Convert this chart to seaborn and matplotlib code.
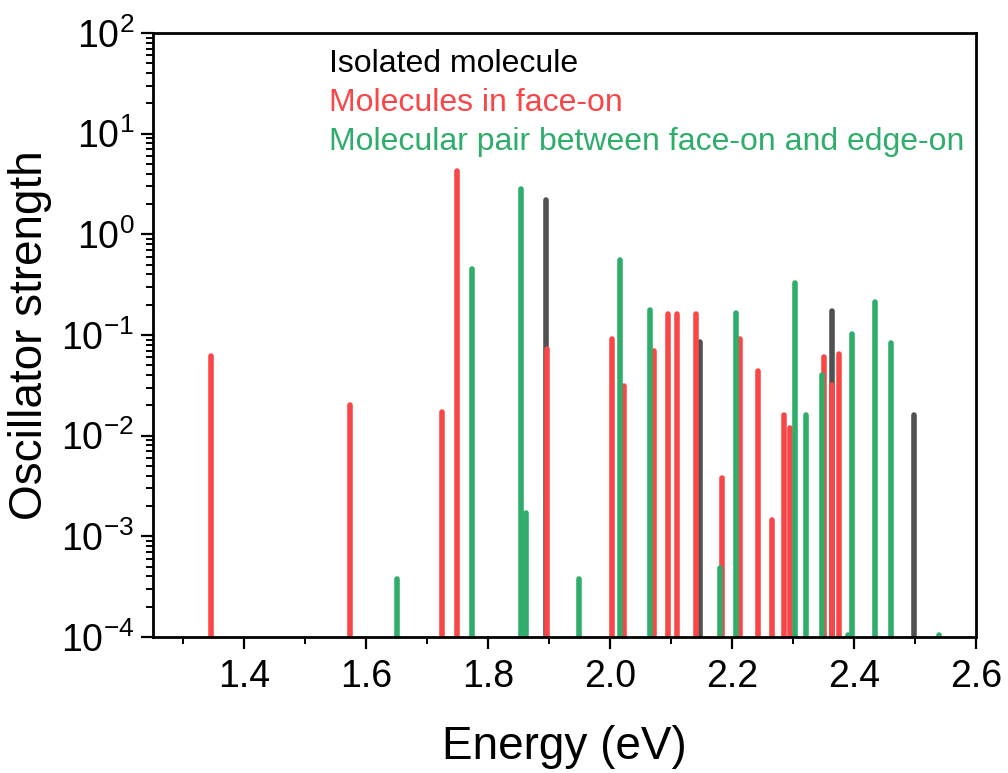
import numpy as np
import pandas as pd
import matplotlib
matplotlib.use("Agg")
import matplotlib.pyplot as plt
from matplotlib.ticker import LogLocator, FixedLocator, MultipleLocator, FuncFormatter, NullFormatter
from matplotlib.lines import Line2D
import seaborn as sns

# Transition energies (eV) and oscillator strengths for each system
iso_E = [1.894, 2.148, 2.363, 2.498]
iso_f = [2.2, 0.085, 0.174, 0.016]

face_E = [1.345, 1.573, 1.724, 1.748, 1.897, 2.003, 2.023, 2.072, 2.095, 2.110,
          2.140, 2.184, 2.212, 2.242, 2.265, 2.285, 2.295, 2.350, 2.363, 2.376]
face_f = [0.062, 0.020, 0.017, 4.25, 0.072, 0.092, 0.031, 0.070, 0.160, 0.160,
          0.160, 3.8e-3, 0.091, 0.044, 1.46e-3, 0.016, 0.012, 0.061, 0.032, 0.065]

pair_E = [1.651, 1.774, 1.854, 1.862, 1.949, 2.016, 2.066, 2.180, 2.207, 2.303,
          2.321, 2.348, 2.390, 2.397, 2.434, 2.461, 2.539]
pair_f = [3.8e-4, 0.45, 2.8, 1.72e-3, 3.8e-4, 0.56, 0.178, 4.8e-4, 0.164, 0.33,
          0.016, 0.040, 1.05e-4, 0.102, 0.213, 0.083, 1.05e-4]

series_names = ["Isolated molecule", "Molecules in face-on",
                "Molecular pair between face-on and edge-on"]
line_colors = ["#505050", "#F94646", "#2EAD6B"]
text_colors = ["#000000", "#F94646", "#2EAD6B"]

x_ticks = [1.4, 1.6, 1.8, 2.0, 2.2, 2.4, 2.6]
y_floor = 1e-4
y_top = 1e2

# Each transition becomes a vertical stick from the axis floor to its strength
rows = []
tid = 0
for name, E, F in zip(series_names, [iso_E, face_E, pair_E], [iso_f, face_f, pair_f]):
    for e, f in zip(E, F):
        rows.append((name, tid, e, y_floor))
        rows.append((name, tid, e, f))
        tid += 1
df = pd.DataFrame(rows, columns=["series", "tid", "energy", "strength"])

sns.set_theme(style="ticks")
plt.rcParams["font.family"] = ["Liberation Sans", "DejaVu Sans"]
plt.rcParams["mathtext.default"] = "regular"
for key in ["text.color", "axes.labelcolor", "xtick.color", "ytick.color",
            "xtick.labelcolor", "ytick.labelcolor", "axes.edgecolor"]:
    plt.rcParams[key] = "black"

fig = plt.figure(figsize=(10.08, 7.73), dpi=100)
ax = fig.add_axes([0.1518, 0.1759, 0.9683 - 0.1518, 0.9573 - 0.1759])

sns.lineplot(data=df, x="energy", y="strength", hue="series", units="tid",
             estimator=None, sort=False, hue_order=series_names,
             palette=line_colors, linewidth=4.0, solid_capstyle="round",
             legend=False, ax=ax)

ax.set_yscale("log")
ax.set_xlim(1.25, 2.6)
ax.set_ylim(y_floor, y_top)

ax.xaxis.set_major_locator(FixedLocator(x_ticks))
ax.xaxis.set_major_formatter(FuncFormatter(lambda v, p: f"{v:.1f}"))
ax.xaxis.set_minor_locator(MultipleLocator(0.1))
ax.yaxis.set_major_locator(LogLocator(base=10, numticks=20))
ax.yaxis.set_minor_locator(LogLocator(base=10, subs=np.arange(2, 10), numticks=20))
ax.yaxis.set_major_formatter(FuncFormatter(lambda v, p: r"$10^{%d}$" % round(np.log10(v))))
ax.yaxis.set_minor_formatter(NullFormatter())

for s in ax.spines.values():
    s.set_linewidth(2.0)
    s.set_color("black")
ax.tick_params(axis="both", which="major", direction="out", length=8.5, width=1.6,
               labelsize=27, color="black", labelcolor="black", pad=7)
ax.tick_params(axis="y", which="major", pad=5)
ax.tick_params(axis="both", which="minor", direction="out", length=5, width=1.4,
               color="black")
ax.tick_params(top=False, right=False, which="both")

ax.set_xlabel("Energy (eV)", fontsize=33, labelpad=22, color="black")
ax.set_ylabel("Oscillator strength", fontsize=33, color="black")
ax.yaxis.set_label_coords(-0.123, 0.5)

handles = [Line2D([], [], color=c, linewidth=0) for c in line_colors]
leg = ax.legend(handles, series_names, loc="upper left", bbox_to_anchor=(0.214, 0.973),
                frameon=False, handlelength=0, handletextpad=0, borderpad=0,
                borderaxespad=0, labelspacing=0.28, fontsize=23,
                labelcolor=text_colors)

fig.savefig("out.png", dpi=100)
